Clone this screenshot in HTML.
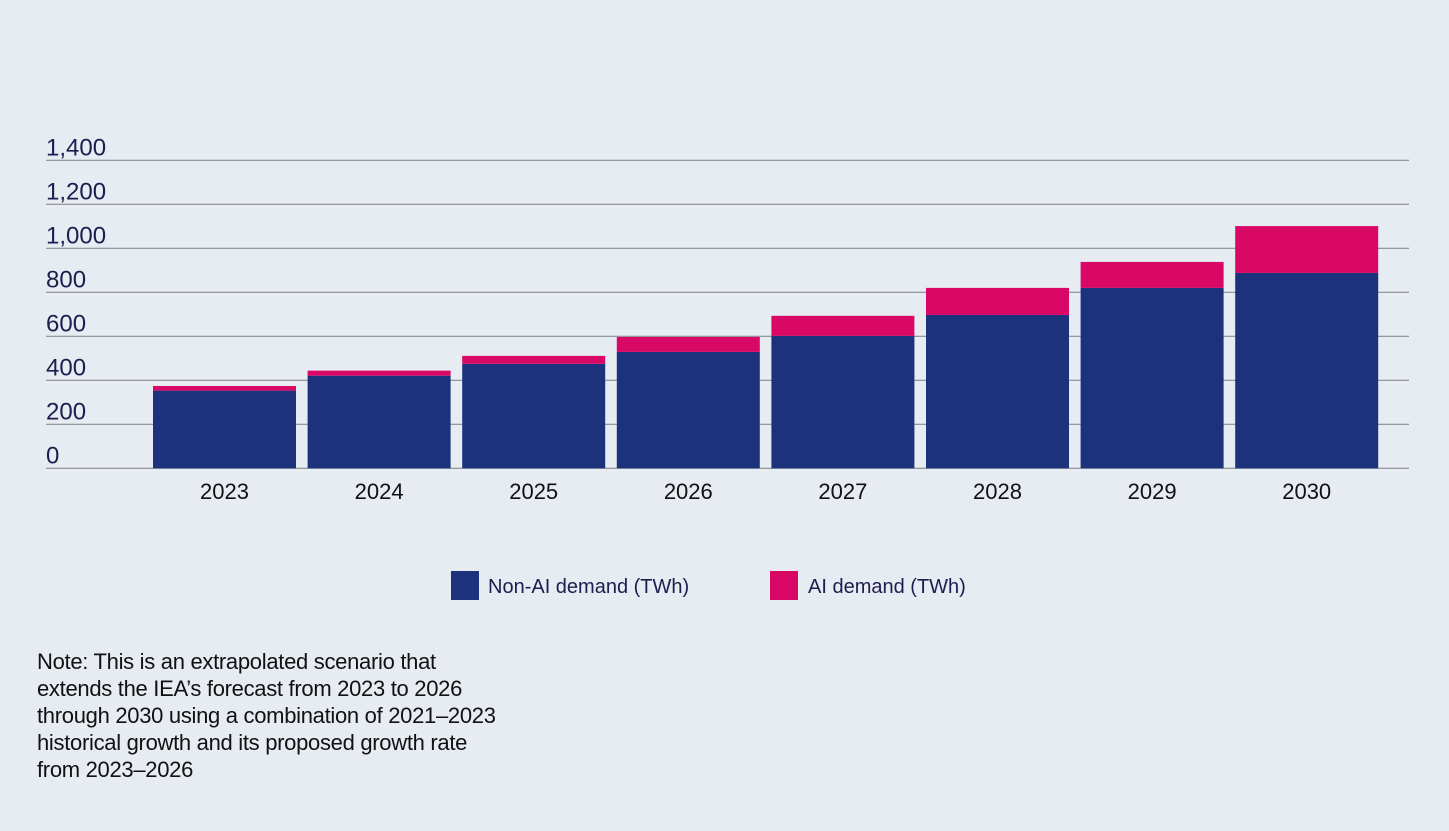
<!DOCTYPE html>
<html><head><meta charset="utf-8"><style>
html,body{margin:0;padding:0;background:#e7ebf2;width:1449px;height:831px;overflow:hidden}
svg{display:block}
text{font-family:"Liberation Sans",sans-serif}
.note{position:absolute;left:37px;top:648px;font-family:"Liberation Sans",sans-serif;font-size:22px;line-height:27px;color:#111;letter-spacing:-0.3px}
</style></head><body>
<svg id="chart" width="1449" height="831" xmlns="http://www.w3.org/2000/svg">
<g id="grid"></g>
<g id="yticks"></g>
<g id="bars"></g>
<g id="xticks"></g>
<g>
<rect x="451" y="571" width="28" height="29" fill="#1c327d"/>
<text x="488" y="593" font-size="20" fill="#1f1d4f">Non-AI demand (TWh)</text>
<rect x="770" y="571" width="28" height="29" fill="#d90766"/>
<text x="808" y="593" font-size="20" fill="#1f1d4f">AI demand (TWh)</text>
</g>
</svg>
<div class="note">Note: This is an extrapolated scenario that<br>extends the IEA’s forecast from 2023 to 2026<br>through 2030 using a combination of 2021–2023<br>historical growth and its proposed growth rate<br>from 2023–2026</div>
<script>
const years = ["2023","2024","2025","2026","2027","2028","2029","2030"];
const nonAI = [353,421,475,529,602,697,820,888];
const ai = [21,23,36,68,91,123,118,213];
const yTicks = [0,200,400,600,800,1000,1200,1400];
const yTickLabels = ["0","200","400","600","800","1,000","1,200","1,400"];

const NS="http://www.w3.org/2000/svg";
const y0=468.3, yMax=1400, yTop=160.3;
function y(v){return y0-(v/yMax)*(y0-yTop);}
const step=154.6, bw=143, x0=153;
function x(i){return x0+i*step;}
function mk(tag,attrs,parent){const e=document.createElementNS(NS,tag);for(const k in attrs)e.setAttribute(k,attrs[k]);parent.appendChild(e);return e;}
const grid=document.getElementById('grid'),yt=document.getElementById('yticks'),bars=document.getElementById('bars'),xt=document.getElementById('xticks');
yTicks.forEach((t,i)=>{
  const l=mk('line',{x1:46,x2:1409,y1:y(t),y2:y(t),stroke:'#8a8d94','stroke-width':1.2},grid);
  
  
  const tx=mk('text',{x:46,y:y(t)-5,'font-size':24,fill:'#1f1d4f'},yt);
  tx.textContent=yTickLabels[i];
  
  
});
years.forEach((yr,i)=>{
  const b1=mk('rect',{x:x(i),y:y(nonAI[i]),width:bw,height:y(0)-y(nonAI[i]),fill:'#1c327d'},bars);
  
  
  const b2=mk('rect',{x:x(i),y:y(nonAI[i]+ai[i]),width:bw,height:y(nonAI[i])-y(nonAI[i]+ai[i]),fill:'#d90766'},bars);
  
  
  const t=mk('text',{x:x(i)+bw/2,y:499,'font-size':22,fill:'#111','text-anchor':'middle'},xt);
  t.textContent=yr;
  
  
});
</script>
</body></html>
